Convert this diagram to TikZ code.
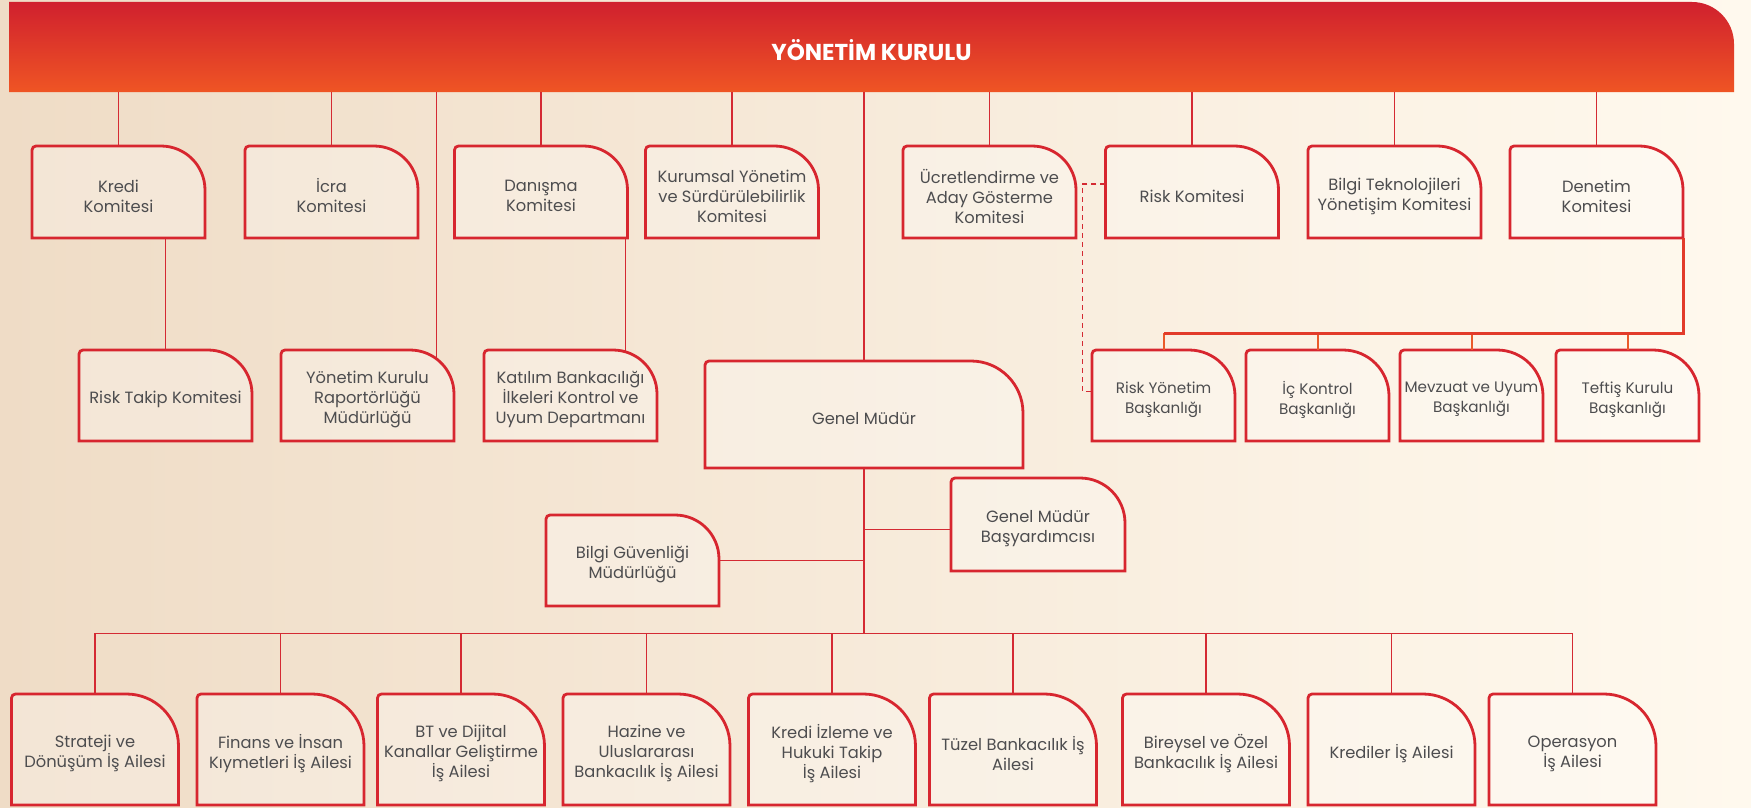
\documentclass[tikz,border=0pt]{standalone}
\usepackage{fontspec}
\setmainfont{Poppins}
\usetikzlibrary{calc}
\definecolor{bgL}{HTML}{EFDCC6}
\definecolor{bgR}{HTML}{FFF9EE}
\definecolor{hdrTop}{HTML}{D0202E}
\definecolor{hdrBot}{HTML}{EF5524}
\definecolor{bred}{HTML}{D7262F}
\definecolor{cred}{HTML}{D42A33}
\definecolor{bus}{HTML}{E23B2A}
\definecolor{drop}{HTML}{EA5A2A}
\definecolor{tgray}{HTML}{4D4D4F}
\tikzset{
  boxfill/.style={draw=bred, line width=2.8pt, fill=white, fill opacity=0.28, draw opacity=1},
  boxshape/.style={draw=none, inner sep=0pt},
  boxtext/.style={draw=none, align=center, text=tgray, inner sep=0pt,
    font=\fontsize{16.3}{20}\selectfont},
  conn/.style={draw=cred, line width=1.4pt},
  dashconn/.style={draw=cred, line width=1.4pt, dash pattern=on 5pt off 4pt},
  busline/.style={draw=bus, line width=2.6pt},
  dropline/.style={draw=drop, line width=2pt},
}
% name, cx, cy, w, h, r, text
\newcommand\obox[7]{%
  \pgfmathsetmacro\bxl{#2-#4/2}\pgfmathsetmacro\bxr{#2+#4/2}%
  \pgfmathsetmacro\byt{#3-#5/2}\pgfmathsetmacro\byb{#3+#5/2}%
  \path[boxfill] (\bxl,\byb) -- (\bxl,\byt+4) arc[start angle=180,end angle=90,radius=4pt]
    -- (\bxr-#6,\byt) arc[start angle=90,end angle=0,radius=#6pt] -- (\bxr,\byb) -- cycle;
  \node[boxshape, minimum width=#4pt, minimum height=#5pt] (#1) at (#2,#3) {};%
  \node[boxtext] (#1t) at (#2,#3+4) {#7};%
}
\begin{document}
\begin{tikzpicture}[x=1pt,y=-1pt]
\useasboundingbox (0,0) rectangle (1751,808);
\shade[left color=bgL, right color=bgR] (0,0) rectangle (1751,808);
% header
\shade[top color=hdrTop, bottom color=hdrBot] (9,92) -- (9,2) -- (1692,2)
  arc[start angle=90,end angle=0,radius=42pt] -- (1734,92) -- cycle;
\node[minimum width=1725pt, minimum height=90pt, inner sep=0pt] (yk) at (871.5,47) {};
\node[text=white, font=\fontsize{23}{27}\selectfont\bfseries] (yktext) at (871.5,50) {YÖNETİM KURULU};

% Row 1
\obox{kredi}{118.5}{192}{173}{92}{44}{Kredi\\Komitesi}
\obox{icra}{331.5}{192}{173}{92}{44}{İcra\\Komitesi}
\obox{danisma}{541}{192}{173}{92}{44}{Danışma\\Komitesi}
\obox{kurumsal}{732}{192}{173}{92}{44}{Kurumsal Yönetim\\ve Sürdürülebilirlik\\Komitesi}
\obox{ucret}{989.5}{192}{173}{92}{44}{Ücretlendirme ve\\Aday Gösterme\\Komitesi}
\obox{risk}{1192}{192}{173}{92}{44}{Risk Komitesi}
\obox{bt}{1394.5}{192}{173}{92}{44}{Bilgi Teknolojileri\\Yönetişim Komitesi}
\obox{denetim}{1596.5}{192}{173}{92}{44}{Denetim\\Komitesi}
% Row 2 left
\obox{risktakip}{165.5}{395.5}{173}{91}{44}{Risk Takip Komitesi}
\obox{ykrap}{367.5}{395.5}{173}{91}{44}{Yönetim Kurulu\\Raportörlüğü\\Müdürlüğü}
\obox{katilim}{570.5}{395.5}{173}{91}{44}{Katılım Bankacılığı\\İlkeleri Kontrol ve\\Uyum Departmanı}
% Genel Mudur
\obox{gm}{864}{414.5}{318}{107}{52}{Genel Müdür}
% Row 2 right
\begin{scope}[boxtext/.append style={font=\fontsize{15.2}{20}\selectfont}]
\obox{riskyon}{1163.5}{395.5}{143}{91}{46}{Risk Yönetim\\Başkanlığı}
\obox{ickontrol}{1317.5}{395.5}{143}{91}{46}{İç Kontrol\\Başkanlığı}
\obox{mevzuat}{1471.5}{395.5}{143}{91}{46}{Mevzuat ve Uyum\\Başkanlığı}
\obox{teftis}{1627.5}{395.5}{143}{91}{46}{Teftiş Kurulu\\Başkanlığı}
\end{scope}
% GM side boxes
\obox{gmb}{1038}{524.5}{174}{93}{45}{Genel Müdür\\Başyardımcısı}
\obox{bg}{632.5}{560.5}{173}{91}{44}{Bilgi Güvenliği\\Müdürlüğü}
% bottom row
\obox{strateji}{95}{749.5}{167}{111}{52}{Strateji ve\\Dönüşüm İş Ailesi}
\obox{finans}{280.5}{749.5}{167}{111}{52}{Finans ve İnsan\\Kıymetleri İş Ailesi}
\obox{btdijital}{461}{749.5}{167}{111}{52}{BT ve Dijital\\Kanallar Geliştirme\\İş Ailesi}
\obox{hazine}{646.5}{749.5}{167}{111}{52}{Hazine ve\\Uluslararası\\Bankacılık İş Ailesi}
\obox{krediizleme}{832}{749.5}{167}{111}{52}{Kredi İzleme ve\\Hukuki Takip\\İş Ailesi}
\obox{tuzel}{1013}{749.5}{167}{111}{52}{Tüzel Bankacılık İş\\Ailesi}
\obox{bireysel}{1206}{749.5}{167}{111}{52}{Bireysel ve Özel\\Bankacılık İş Ailesi}
\obox{krediler}{1391.5}{749.5}{167}{111}{52}{Krediler İş Ailesi}
\obox{operasyon}{1572.5}{749.5}{167}{111}{52}{Operasyon\\İş Ailesi}

% connectors header -> committees
\foreach \n in {kredi,icra,danisma,kurumsal,ucret,risk,bt,denetim}
  \draw[conn] (\n.north |- yk.south) -- (\n.north);
\draw[conn] (gm.north |- yk.south) -- (gm.north);
% Kredi -> Risk Takip
\draw[conn] (risktakip.north |- kredi.south) -- (risktakip.north);
% header -> YK Raportorlugu (enters curve)
\path ([xshift=-18pt,yshift=-9pt]ykrap.north east) coordinate (ykrin);
\draw[conn] (ykrin |- yk.south) -- (ykrin);
% Danisma -> Katilim
\path ([xshift=-32pt,yshift=-2pt]katilim.north east) coordinate (katin);
\draw[conn] (katin |- danisma.south) -- (katin);
% Denetim bus
\path (denetim.south east) ++(0,95) coordinate (dbus);
\foreach \n in {riskyon,ickontrol,mevzuat,teftis}
  \draw[dropline] (\n.north |- dbus) -- (\n.north);
\draw[busline] (denetim.south east) -- (dbus) -- (riskyon.north |- dbus);
% dashed Risk Komitesi -> Risk Yonetim
\draw[dashconn] ([yshift=8pt]risk.west) -- ++(-23,0) |- ([yshift=4pt]riskyon.west);
% GM down
\path (gm.south) ++(0,165) coordinate (bbus);
\path ([yshift=-5pt]gmb.west) coordinate (gmbin);
\draw[conn] (gm.south) -- (bbus);
\draw[conn] (gmbin) -- (gm.south |- gmbin);
\draw[conn] (bg.east) -- (gm.south |- bg.east);
\draw[conn] (strateji.north |- bbus) -- (operasyon.north |- bbus);
\foreach \n in {strateji,finans,btdijital,hazine,krediizleme,tuzel,bireysel,krediler,operasyon}
  \draw[conn] (\n.north |- bbus) -- (\n.north);
\end{tikzpicture}
\end{document}
